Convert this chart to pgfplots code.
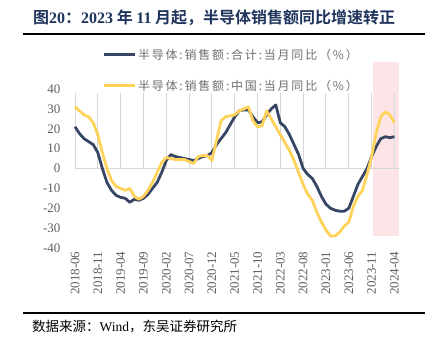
\documentclass[border=0pt]{standalone}
\usepackage{fontspec}
\usepackage{pgfplots}
\usepackage{pgfplotstable}
\pgfplotsset{compat=1.18}
\setmainfont{Liberation Serif}
\newfontfamily\cjk{Noto Sans CJK SC}
\newfontfamily\cjkl[LetterSpace=15]{Noto Sans CJK SC}
\newfontfamily\cjkb{Noto Sans CJK SC Bold}
\definecolor{darkc}{RGB}{55,70,100}
\definecolor{yelc}{RGB}{255,210,90}
\definecolor{titlec}{RGB}{31,52,92}
\definecolor{labc}{RGB}{95,95,95}
\definecolor{legc}{RGB}{110,110,110}
\definecolor{pinkc}{RGB}{253,228,230}
\definecolor{zeroc}{RGB}{215,215,215}
\newcommand\tb[1]{{\rmfamily\bfseries #1}}

\pgfplotstableread{
x total china
0 21 31
1 17.5 29
2 15 27
3 13.5 26
4 12 23
5 8 17
6 0 8
7 -7 0
8 -11 -6
9 -13.5 -9
10 -14.5 -10
11 -15 -11
12 -17 -10
13 -15.5 -14
14 -16 -15.5
15 -15 -14
16 -13 -11
17 -10 -7
18 -7 -2
19 -2 3
20 4 5.5
21 7 5
22 6 4.5
23 5.5 4.5
24 5 4.5
25 4.5 3.5
26 4 2.5
27 5 6
28 6 6.5
29 6.5 6.5
30 8 4
31 12 14
32 15 24
33 18 26
34 22 26.5
35 26 27
36 29 29
37 29.5 30
38 29.5 31
39 26 24
40 23 21
41 23.5 21.5
42 27 29
43 30 25
44 32 21
45 23 17
46 21 13
47 17 9
48 12 4
49 7 -2
50 0 -8
51 -3 -13
52 -5 -16
53 -9 -22
54 -14 -27
55 -18 -31
56 -20 -34
57 -21 -34
58 -21.5 -32
59 -21.5 -29
60 -20 -27
61 -14 -19
62 -8 -14
63 -4 -11
64 0 -3
65 6 6
66 11 18
67 15 26
68 16 28.5
69 15.5 27
70 16 23
}\datatable

\begin{document}
\begin{tikzpicture}[x=1pt,y=1pt]
\useasboundingbox (0,0) rectangle (436,349);
\node[anchor=west, inner sep=0pt, text=titlec] at (33,331)
  {\cjkb\fontsize{16}{18}\selectfont 图\tb{20}：\tb{2023} 年 \tb{11} 月起，半导体销售额同比增速转正};
\draw[line width=1.2pt] (23,315) -- (425,315);
\draw[line width=1.7pt] (23,36) -- (425,36);
\node[anchor=west, inner sep=0pt] at (32,22)
  {\cjk\fontsize{13.5}{15}\selectfont 数据来源：{\rmfamily Wind}，东吴证券研究所};

\begin{axis}[
  at={(75pt,101pt)}, anchor=south west,
  scale only axis, width=324pt, height=159pt,
  xmin=0, xmax=71, ymin=-40, ymax=40,
  clip=false,
  axis line style={draw=none},
  tick style={draw=none},
  xtick={0,5,...,70},
  xticklabels={2018-06,2018-11,2019-04,2019-09,2020-02,2020-07,2020-12,2021-05,2021-10,2022-03,2022-08,2023-01,2023-06,2023-11,2024-04},
  ytick={-40,-30,...,40},
  yticklabels={{-40},{-30},{-20},{-10},{0},{10},{20},{30},{40}},
  xticklabel style={rotate=90, anchor=east, text=labc, font=\fontsize{13}{14}\selectfont},
  yticklabel style={text=labc, font=\fontsize{13}{14}\selectfont, xshift=-11pt},
  legend style={at={(0.083,1.265)}, anchor=north west, draw=none, fill=none,
    font=\cjkl\fontsize{12}{14}\selectfont, text=legc, row sep=15pt, inner sep=0pt},
  legend cell align=left,
  legend image code/.code={\draw[#1, line width=3pt] (0pt,0pt) -- (31pt,0pt);},
]
\fill[pinkc] (axis cs:65.3,-34.2) rectangle (axis cs:71,53.8);
\draw[zeroc, line width=1.3pt] (axis cs:0,0) -- (axis cs:71,0);
\pgfplotsinvokeforeach{0,5,...,70}{\draw[zeroc, line width=1pt] (axis cs:#1,0) -- ++(0,-4pt);}
\addplot[darkc, line width=2.8pt, line join=round] table[x=x, y=total] {\datatable};
\addlegendentry{半导体:销售额:合计:当月同比（\%）}
\addplot[yelc, line width=2.8pt, line join=round] table[x=x, y=china] {\datatable};
\addlegendentry{半导体:销售额:中国:当月同比（\%）}
\end{axis}
\end{tikzpicture}
\end{document}
